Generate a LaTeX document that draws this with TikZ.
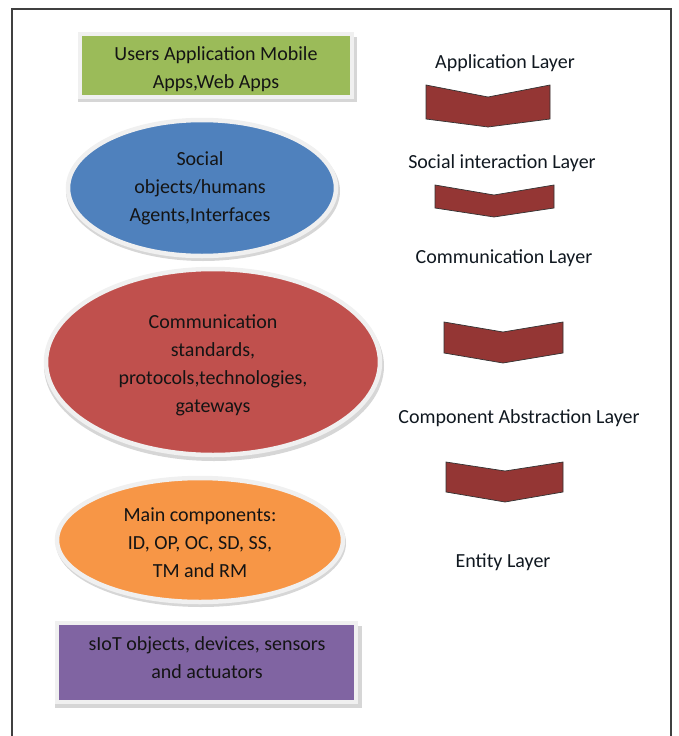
\documentclass[tikz,border=0pt]{standalone}
\usepackage{fontspec}
\setmainfont{Carlito}
\usetikzlibrary{shapes.geometric}
\definecolor{cgreen}{HTML}{9BBB59}
\definecolor{cblue}{HTML}{4F81BD}
\definecolor{cred}{HTML}{C0504D}
\definecolor{corange}{HTML}{F79646}
\definecolor{cpurple}{HTML}{8064A2}
\definecolor{cchev}{HTML}{943634}
\definecolor{ctext}{HTML}{141414}
\definecolor{clabel}{HTML}{101820}
\tikzset{
  txt/.style={align=center, text=ctext, font=\fontsize{20}{28}\selectfont, inner sep=0pt},
  lbl/.style={text=clabel, font=\fontsize{20}{22}\selectfont, inner sep=0pt},
  chev/.style={fill=cchev, draw=black!80, line width=0.7pt, line join=miter},
  shade/.style={fill=black!16, draw=none},
  ring/.style={draw=white!94!black, line width=4.5pt},
}
\begin{document}
\begin{tikzpicture}[x=1pt,y=-1pt]
\useasboundingbox (0,0) rectangle (678,736);
% frame
\draw[black!75, line width=1.6pt] (12,740) -- (12,9) -- (671,9) -- (671,740);

% green box
\fill[shade] (78,37) rectangle (357,102);
\draw[ring, fill=cgreen] (80,34) rectangle (352,97);
\node[txt] (app) at (216,69) {Users Application Mobile\\Apps,Web Apps};

% blue ellipse
\fill[shade] (203,191) ellipse [x radius=137, y radius=70];
\draw[ring, fill=cblue] (202,188) ellipse [x radius=134, y radius=68];
\node[txt] (soc) at (200,188) {Social\\objects/humans\\Agents,Interfaces};

% red ellipse
\fill[shade] (214,366) ellipse [x radius=170, y radius=95];
\draw[ring, fill=cred] (213,362) ellipse [x radius=167, y radius=93];
\node[txt] (com) at (213,365) {Communication\\standards,\\protocols,technologies,\\gateways};

% orange ellipse
\fill[shade] (201,543) ellipse [x radius=145, y radius=64];
\draw[ring, fill=corange] (200,540) ellipse [x radius=143, y radius=62];
\node[txt] (main) at (200,543) {Main components:\\ID, OP, OC, SD, SS,\\TM and RM};

% purple box
\fill[shade] (55,626) rectangle (362,708);
\draw[ring, fill=cpurple] (57,623) rectangle (356,702);
\node[txt] (siot) at (207,658) {sIoT objects, devices, sensors\\and actuators};

% layer labels
\node[lbl] (l1) at (505,63) {Application Layer};
\node[lbl] (l2) at (502,163) {Social interaction Layer};
\node[lbl] (l3) at (504,258) {Communication Layer};
\node[lbl] (l4) at (519,418) {Component Abstraction Layer};
\node[lbl] (l5) at (503,562) {Entity Layer};

% chevrons
\draw[chev] (426,85) -- (488,97) -- (550,85) -- (550,119) -- (488,127) -- (426,119) -- cycle;
\draw[chev] (435,185) -- (494,195) -- (554,185) -- (554,208) -- (494,217) -- (435,208) -- cycle;
\draw[chev] (444,322) -- (503,332) -- (563,322) -- (563,353) -- (503,363) -- (444,353) -- cycle;
\draw[chev] (446,462) -- (505,471) -- (563,462) -- (563,492) -- (505,502) -- (446,492) -- cycle;
\end{tikzpicture}
\end{document}
